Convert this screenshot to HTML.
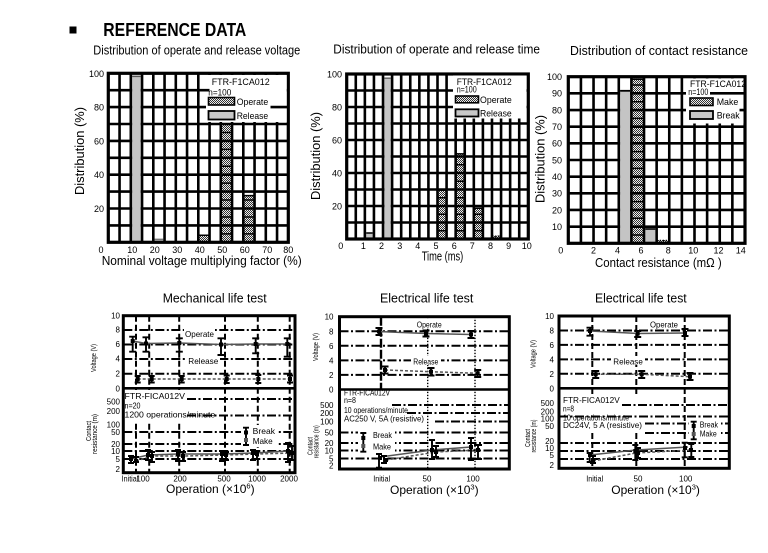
<!DOCTYPE html>
<html><head><meta charset="utf-8"><style>
html,body{margin:0;padding:0;background:#fff;}
svg{display:block;font-family:"Liberation Sans",Arial,sans-serif;}
.g{stroke:#000;stroke-width:2.6;fill:none}
.dd{stroke:#000;stroke-width:2;stroke-dasharray:9 2.5 2 2.5;fill:none}
.vd{stroke:#000;stroke-width:2;stroke-dasharray:6 3;fill:none}
.dt{stroke:#000;stroke-width:1.4;stroke-dasharray:1.4 1.6;fill:none}
.eb{stroke:#000;stroke-width:1.9;fill:none}
.ln{stroke:#555;stroke-width:1.5;fill:none}
.lnd{stroke:#555;stroke-width:1.5;fill:none;stroke-dasharray:3 2}
.hl{stroke:#000;stroke-width:1.5;fill:none}
</style></head><body>
<svg width="768" height="553" viewBox="0 0 768 553" xmlns="http://www.w3.org/2000/svg">
<defs>
<pattern id="ck" width="2" height="2" patternUnits="userSpaceOnUse"><rect width="2" height="2" fill="#eee"/><rect width="1" height="1" fill="#333"/><rect x="1" y="1" width="1" height="1" fill="#333"/></pattern>
</defs>
<rect width="768" height="553" fill="#fff"/>

<!-- Header -->
<rect x="69.5" y="26.5" width="7" height="7" fill="#000"/>
<text x="103.3" y="36" font-size="18.5" font-weight="bold" textLength="143" lengthAdjust="spacingAndGlyphs">REFERENCE DATA</text>

<!-- Titles -->
<text x="93.3" y="54.5" font-size="12.5" textLength="207" lengthAdjust="spacingAndGlyphs">Distribution of operate and release voltage</text>
<text x="333.3" y="53.5" font-size="12.5" textLength="206.7" lengthAdjust="spacingAndGlyphs">Distribution of operate and release time</text>
<text x="570" y="55" font-size="12.5" textLength="178" lengthAdjust="spacingAndGlyphs">Distribution of contact resistance</text>
<text x="162.7" y="302.3" font-size="12.5" textLength="104" lengthAdjust="spacingAndGlyphs">Mechanical life test</text>
<text x="380" y="302.3" font-size="12.5" textLength="93.3" lengthAdjust="spacingAndGlyphs">Electrical life test</text>
<text x="595" y="302.3" font-size="12.5" textLength="91.7" lengthAdjust="spacingAndGlyphs">Electrical life test</text>

<!-- ========== TOP LEFT ========== -->
<rect x="198.3" y="234.7" width="11.25" height="7.6" fill="url(#ck)"/>
<rect x="220.8" y="124" width="11.25" height="118.3" fill="url(#ck)"/>
<rect x="243.3" y="195" width="11.25" height="47.3" fill="url(#ck)"/>
<path class="hl" d="M198.3 235.2H209.55M220.8 233.85H232.05M220.8 216.95H232.05M220.8 200.05H232.05M220.8 183.15H232.05M220.8 166.25H232.05M220.8 149.35H232.05M220.8 132.45H232.05M243.3 233.85H254.55M243.3 216.95H254.55M243.3 200.05H254.55M243.3 195.6H254.55"/>
<path class="g" d="M108.3 90.2H288.3M108.3 107.1H288.3M108.3 124H288.3M108.3 140.9H288.3M108.3 157.8H288.3M108.3 174.7H288.3M108.3 191.6H288.3M108.3 208.5H288.3M108.3 225.4H288.3"/>
<rect x="132.1" y="75" width="8.65" height="167.3" fill="#c4c4c4"/>
<line x1="132.1" y1="76.5" x2="140.75" y2="76.5" stroke="#555" stroke-width="1.2"/>
<rect x="154.6" y="238.9" width="8.65" height="3.4" fill="#c4c4c4"/>
<line x1="154.6" y1="239.2" x2="163.25" y2="239.2" stroke="#555" stroke-width="1"/>
<path class="g" d="M119.55 73.3V242.3M130.8 73.3V242.3M142.05 73.3V242.3M153.3 73.3V242.3M164.55 73.3V242.3M175.8 73.3V242.3M187.05 73.3V242.3M198.3 73.3V242.3M209.55 73.3V242.3M220.8 73.3V242.3M232.05 73.3V242.3M243.3 73.3V242.3M254.55 73.3V242.3M265.8 73.3V242.3M277.05 73.3V242.3"/>
<rect x="108.3" y="73.3" width="180" height="169" fill="none" stroke="#000" stroke-width="3.2"/>
<rect x="206" y="75" width="80.7" height="47" fill="#fff"/>
<path class="g" d="M270.5 107.1H288M206 90.2H209.5"/>
<text x="211.7" y="85" font-size="9.5" textLength="58" lengthAdjust="spacingAndGlyphs">FTR-F1CA012</text>
<text x="208.3" y="95.3" font-size="9.5" textLength="23" lengthAdjust="spacingAndGlyphs">n=100</text>
<rect x="208.5" y="97.5" width="26" height="7.5" fill="url(#ck)" stroke="#000" stroke-width="1.6"/>
<text x="236.7" y="104.8" font-size="9.5" textLength="31.5" lengthAdjust="spacingAndGlyphs">Operate</text>
<rect x="208.5" y="111" width="26" height="8.5" fill="#c8c8c8" stroke="#000" stroke-width="1.8"/>
<text x="236.7" y="119" font-size="9.5" textLength="31.5" lengthAdjust="spacingAndGlyphs">Release</text>
<g font-size="9" text-anchor="end">
<text x="104" y="77">100</text><text x="104" y="110.6">80</text><text x="104" y="144.4">60</text><text x="104" y="178.2">40</text><text x="104" y="212">20</text>
</g>
<g font-size="9" text-anchor="middle">
<text x="101" y="253">0</text><text x="132.3" y="253">10</text><text x="154.8" y="253">20</text><text x="177.3" y="253">30</text><text x="199.8" y="253">40</text><text x="222.3" y="253">50</text><text x="244.8" y="253">60</text><text x="267.3" y="253">70</text><text x="288.3" y="253">80</text>
</g>
<text transform="translate(84,151) rotate(-90)" text-anchor="middle" font-size="12.5" textLength="88" lengthAdjust="spacingAndGlyphs">Distribution (%)</text>
<text x="101.7" y="265" font-size="12.5" textLength="200" lengthAdjust="spacingAndGlyphs">Nominal voltage multiplying factor (%)</text>

<!-- ========== TOP MIDDLE ========== -->
<rect x="437.5" y="189.5" width="9.08" height="49.5" fill="url(#ck)"/>
<rect x="455.66" y="153.2" width="9.08" height="85.8" fill="url(#ck)"/>
<rect x="473.82" y="207.65" width="9.08" height="31.35" fill="url(#ck)"/>
<rect x="491.98" y="235.7" width="9.08" height="3.3" fill="url(#ck)"/>
<path class="hl" d="M437.5 230.75H446.58M437.5 214.25H446.58M437.5 197.75H446.58M437.5 190.2H446.58M455.66 230.75H464.74M455.66 214.25H464.74M455.66 197.75H464.74M455.66 181.25H464.74M455.66 164.75H464.74M455.66 153.9H464.74M473.82 230.75H482.9M473.82 214.25H482.9M473.82 208.3H482.9"/>
<line x1="491.98" y1="236.2" x2="501.06" y2="236.2" class="dt"/>
<path class="g" d="M346.7 90.5H528.3M346.7 107H528.3M346.7 123.5H528.3M346.7 140H528.3M346.7 156.5H528.3M346.7 173H528.3M346.7 189.5H528.3M346.7 206H528.3M346.7 222.5H528.3"/>
<rect x="366.16" y="232.4" width="6.48" height="6.6" fill="#c4c4c4"/>
<line x1="366.16" y1="233" x2="372.64" y2="233" stroke="#000" stroke-width="1.5"/>
<rect x="384.32" y="77.3" width="6.48" height="161.7" fill="#c4c4c4"/>
<line x1="384.32" y1="78.2" x2="390.8" y2="78.2" stroke="#555" stroke-width="1.2"/>
<path class="g" d="M355.78 74V239M364.86 74V239M373.94 74V239M383.02 74V239M392.1 74V239M401.18 74V239M410.26 74V239M419.34 74V239M428.42 74V239M437.5 74V239M446.58 74V239M455.66 74V239M464.74 74V239M473.82 74V239M482.9 74V239M491.98 74V239M501.06 74V239M510.14 74V239M519.22 74V239"/>
<rect x="346.7" y="74" width="181.6" height="165" fill="none" stroke="#000" stroke-width="3.2"/>
<rect x="453" y="75.5" width="73.5" height="43" fill="#fff"/>
<text x="456.7" y="84.8" font-size="9.5" textLength="55" lengthAdjust="spacingAndGlyphs">FTR-F1CA012</text>
<text x="456.7" y="92.5" font-size="9.5" textLength="20" lengthAdjust="spacingAndGlyphs">n=100</text>
<rect x="455.5" y="96" width="23" height="6.8" fill="url(#ck)" stroke="#000" stroke-width="1.6"/>
<text x="480" y="103" font-size="9.5" textLength="31.7" lengthAdjust="spacingAndGlyphs">Operate</text>
<rect x="455.5" y="109.3" width="23" height="7.2" fill="#c8c8c8" stroke="#000" stroke-width="1.8"/>
<text x="480" y="116.3" font-size="9.5" textLength="31.7" lengthAdjust="spacingAndGlyphs">Release</text>
<g font-size="9" text-anchor="end">
<text x="342" y="77.3">100</text><text x="342" y="110.3">80</text><text x="342" y="143.3">60</text><text x="342" y="176.3">40</text><text x="342" y="209.3">20</text>
</g>
<g font-size="9" text-anchor="middle">
<text x="340.7" y="249">0</text><text x="363.4" y="249">1</text><text x="381.5" y="249">2</text><text x="399.7" y="249">3</text><text x="417.8" y="249">4</text><text x="436" y="249">5</text><text x="454.2" y="249">6</text><text x="472.3" y="249">7</text><text x="490.5" y="249">8</text><text x="508.6" y="249">9</text><text x="526.8" y="249">10</text>
</g>
<text transform="translate(320,156) rotate(-90)" text-anchor="middle" font-size="12.5" textLength="88" lengthAdjust="spacingAndGlyphs">Distribution (%)</text>
<text x="421.7" y="260.5" font-size="12.5" textLength="41.6" lengthAdjust="spacingAndGlyphs">Time (ms)</text>

<!-- ========== TOP RIGHT ========== -->
<rect x="631.4" y="78.4" width="12.62" height="164.9" fill="url(#ck)"/>
<rect x="656.64" y="240" width="12.62" height="3.3" fill="url(#ck)"/>
<path class="hl" d="M631.4 234.97H644.02M631.4 218.31H644.02M631.4 201.65H644.02M631.4 184.99H644.02M631.4 168.33H644.02M631.4 151.67H644.02M631.4 135.01H644.02M631.4 118.35H644.02M631.4 101.69H644.02M631.4 85.03H644.02M631.4 79.2H644.02"/>
<line x1="656.64" y1="240.5" x2="669.26" y2="240.5" class="dt"/>
<path class="g" d="M568.3 93.36H745M568.3 110.02H745M568.3 126.68H745M568.3 143.34H745M568.3 160H745M568.3 176.66H745M568.3 193.32H745M568.3 209.98H745M568.3 226.64H745"/>
<rect x="620.08" y="90" width="10.02" height="153.3" fill="#c4c4c4"/>
<line x1="620.08" y1="90.8" x2="630.1" y2="90.8" stroke="#000" stroke-width="1.8"/>
<rect x="645.32" y="228.3" width="10.02" height="15" fill="#c4c4c4"/>
<line x1="645.32" y1="229" x2="655.34" y2="229" stroke="#000" stroke-width="1.6"/>
<path class="g" d="M580.92 76.7V243.3M593.54 76.7V243.3M606.16 76.7V243.3M618.78 76.7V243.3M631.4 76.7V243.3M644.02 76.7V243.3M656.64 76.7V243.3M669.26 76.7V243.3M681.88 76.7V243.3M694.5 76.7V243.3M707.12 76.7V243.3M719.74 76.7V243.3M732.36 76.7V243.3"/>
<rect x="568.3" y="76.7" width="176.7" height="166.6" fill="none" stroke="#000" stroke-width="3.2"/>
<rect x="686" y="78.5" width="57.5" height="45" fill="#fff"/>
<path class="g" d="M710 93.36H744M739.5 110.02H744"/>
<text x="690" y="86.8" font-size="9.5" textLength="56" lengthAdjust="spacingAndGlyphs">FTR-F1CA012</text>
<text x="688.3" y="95.2" font-size="9.5" textLength="20" lengthAdjust="spacingAndGlyphs">n=100</text>
<rect x="690" y="98" width="23" height="7.5" fill="url(#ck)" stroke="#000" stroke-width="1.6"/>
<text x="716.7" y="105" font-size="9.5" textLength="21.6" lengthAdjust="spacingAndGlyphs">Make</text>
<rect x="690" y="111" width="23" height="8" fill="#c8c8c8" stroke="#000" stroke-width="1.8"/>
<text x="716.7" y="118.5" font-size="9.5" textLength="23" lengthAdjust="spacingAndGlyphs">Break</text>
<g font-size="9" text-anchor="end">
<text x="562" y="80">100</text><text x="562" y="96.7">90</text><text x="562" y="113.3">80</text><text x="562" y="130">70</text><text x="562" y="146.6">60</text><text x="562" y="163.3">50</text><text x="562" y="180">40</text><text x="562" y="196.6">30</text><text x="562" y="213.3">20</text><text x="562" y="230">10</text>
</g>
<g font-size="9" text-anchor="middle">
<text x="560.7" y="253.5">0</text><text x="593.5" y="253.5">2</text><text x="617.5" y="253.5">4</text><text x="641" y="253.5">6</text><text x="668.3" y="253.5">8</text><text x="693.3" y="253.5">10</text><text x="718.5" y="253.5">12</text><text x="740.7" y="253.5">14</text>
</g>
<text transform="translate(544.5,159) rotate(-90)" text-anchor="middle" font-size="12.5" textLength="88" lengthAdjust="spacingAndGlyphs">Distribution (%)</text>
<text x="595" y="267" font-size="12.5" textLength="126.7" lengthAdjust="spacingAndGlyphs">Contact resistance (mΩ )</text>

<!-- ========== BOTTOM LEFT ========== -->
<path class="dd" d="M123.3 330H295M123.3 344.5H295M123.3 359H295M123.3 373.8H295"/>
<path class="dd" d="M123.3 432H295M123.3 444H295M123.3 451H295M123.3 459H295"/>
<path class="vd" d="M136 315.7V472.7M149.2 315.7V472.7M179.2 315.7V472.7M225 315.7V472.7M257.8 315.7V472.7M289.7 315.7V472.7"/>
<rect x="125" y="390" width="62" height="31" fill="#fff"/>
<path class="dd" d="M187 399H295M187 415.5H295"/>
<line x1="123.3" y1="388.3" x2="295" y2="388.3" stroke="#000" stroke-width="2.6"/>
<rect x="123.3" y="315.7" width="171.7" height="157" fill="none" stroke="#000" stroke-width="3"/>
<rect x="184" y="329" width="31" height="9" fill="#fff"/>
<rect x="187" y="356" width="33" height="9" fill="#fff"/>
<text x="185" y="337" font-size="8.5" textLength="29" lengthAdjust="spacingAndGlyphs">Operate</text>
<text x="188.3" y="364" font-size="8.5" textLength="30" lengthAdjust="spacingAndGlyphs">Release</text>
<polyline class="ln" points="132.7,341 146,343.5 179.3,343 221,344.5 255.7,344 287.3,344"/>
<polyline class="lnd" points="137.7,379 151.7,379 181.7,379 226.7,379 258.3,379 290,379"/>
<path class="eb" d="M129.2 336.7h7M132.7 336.7V351.7M129.2 351.7h7M142.5 337.3h7M146 337.3V351.7M142.5 351.7h7M175.8 338.3h7M179.3 338.3V351.7M175.8 351.7h7M217.5 338.3h7M221 338.3V355M217.5 355h7M252.2 338.3h7M255.7 338.3V353.3M252.2 353.3h7M283.8 338.3h7M287.3 338.3V356.7M283.8 356.7h7"/>
<g fill="#000"><rect x="130.7" y="339" width="4" height="4"/><rect x="144" y="341.5" width="4" height="4"/><rect x="177.3" y="341" width="4" height="4"/><rect x="219" y="342.5" width="4" height="4"/><rect x="253.7" y="342" width="4" height="4"/><rect x="285.3" y="342" width="4" height="4"/></g>
<path class="eb" d="M134.7 376h6M137.7 376V382.5M134.7 382.5h6M148.7 376h6M151.7 376V382.5M148.7 382.5h6M178.7 376h6M181.7 376V382.5M178.7 382.5h6M223.7 375.5h6M226.7 375.5V383M223.7 383h6M255.3 375h6M258.3 375V383M255.3 383h6M287 375.5h6M290 375.5V382.5M287 382.5h6"/>
<g fill="#000"><rect x="135.7" y="377" width="4" height="4"/><rect x="149.7" y="377" width="4" height="4"/><rect x="179.7" y="377" width="4" height="4"/><rect x="224.7" y="377" width="4" height="4"/><rect x="256.3" y="377" width="4" height="4"/><rect x="288" y="377" width="4" height="4"/></g>
<polyline class="ln" points="131,459 148,455 178,454 222,454 253,453 288,451"/>
<polyline class="lnd" points="136,461 152,456 183,456 226,455 257,454 292,453"/>
<path class="eb" d="M128 456h6M131 456V463M128 463h6M133 457h6M136 457V462M133 462h6M145 450h6M148 450V460M145 460h6M149 452h6M152 452V462M149 462h6M175 450h6M178 450V461M175 461h6M180 452h6M183 452V461M180 461h6M219 451h6M222 451V461M219 461h6M223 452h6M226 452V460M223 460h6M250 450h6M253 450V460M250 460h6M254 451h6M257 451V459M254 459h6M285 443h6M288 443V462M285 462h6M289 446h6M292 446V460M289 460h6"/>
<g fill="#000"><rect x="129" y="457" width="4" height="4"/><rect x="134" y="459" width="4" height="4"/><rect x="146" y="453" width="4" height="4"/><rect x="150" y="454" width="4" height="4"/><rect x="176" y="452" width="4" height="4"/><rect x="181" y="454" width="4" height="4"/><rect x="220" y="452" width="4" height="4"/><rect x="224" y="453" width="4" height="4"/><rect x="251" y="451" width="4" height="4"/><rect x="255" y="452" width="4" height="4"/><rect x="286" y="449" width="4" height="4"/><rect x="290" y="451" width="4" height="4"/></g>
<rect x="241" y="425" width="36" height="22" fill="#fff"/>
<path class="eb" d="M243 427.7h6M246 427.7V445M243 445h6"/>
<rect x="244" y="430.5" width="4" height="4" fill="#000"/><rect x="244" y="438" width="4" height="4" fill="#555"/>
<text x="252.7" y="434" font-size="8.5" textLength="22.3" lengthAdjust="spacingAndGlyphs">Break</text>
<text x="252.7" y="444" font-size="8.5" textLength="20" lengthAdjust="spacingAndGlyphs">Make</text>
<text x="124.5" y="399" font-size="8.5" textLength="60.5" lengthAdjust="spacingAndGlyphs">FTR-FICA012V</text>
<text x="124.5" y="408.3" font-size="8.5" textLength="16" lengthAdjust="spacingAndGlyphs">n=20</text>
<text x="124.5" y="417.7" font-size="8.5" textLength="90.7" lengthAdjust="spacingAndGlyphs">1200 operations/minute</text>
<g font-size="8" text-anchor="end">
<text x="120" y="318.7">10</text><text x="120" y="332.3">8</text><text x="120" y="347">6</text><text x="120" y="361.3">4</text><text x="120" y="376.3">2</text><text x="120" y="391.3">0</text>
<text x="120" y="404.5">500</text><text x="120" y="414">200</text><text x="120" y="427.3">100</text><text x="120" y="435">50</text><text x="120" y="446.8">20</text><text x="120" y="454">10</text><text x="120" y="462">5</text><text x="120" y="472.2">2</text>
</g>
<g font-size="8" text-anchor="middle">
<text x="130" y="481.3" textLength="16.7" lengthAdjust="spacingAndGlyphs">Initial</text><text x="143" y="481.3">100</text><text x="180" y="481.3">200</text><text x="224" y="481.3">500</text><text x="257" y="481.3">1000</text><text x="289" y="481.3">2000</text>
</g>
<text transform="translate(96,358) rotate(-90)" text-anchor="middle" font-size="7.5" textLength="28" lengthAdjust="spacingAndGlyphs">Voltage (V)</text>
<text transform="translate(91,431) rotate(-90)" text-anchor="middle" font-size="7.5" textLength="20" lengthAdjust="spacingAndGlyphs">Contact</text>
<text transform="translate(97,434) rotate(-90)" text-anchor="middle" font-size="7.5" textLength="40" lengthAdjust="spacingAndGlyphs">resistance (m)</text>
<text x="166" y="493" font-size="12">Operation (×10<tspan font-size="7.5" dy="-4.5">6</tspan><tspan dy="4.5">)</tspan></text>

<!-- ========== BOTTOM MIDDLE ========== -->
<path class="dd" d="M339.5 331.3H509.3M339.5 345.8H509.3M339.5 360.4H509.3M339.5 374.9H509.3"/>
<path class="dd" d="M392 405H509.3M407 413H509.3M435 421.5H509.3M339.5 432.5H509.3M339.5 443H509.3M339.5 450.5H509.3M339.5 458.5H509.3"/>
<path class="dt" d="M427.7 316.7V469M475 316.7V469"/>
<line x1="381" y1="316.7" x2="381" y2="389.5" stroke="#000" stroke-width="2.4" stroke-dasharray="9 2"/>
<line x1="339.5" y1="389.5" x2="509.3" y2="389.5" stroke="#000" stroke-width="2.6"/>
<rect x="339.5" y="316.7" width="169.8" height="152.3" fill="none" stroke="#000" stroke-width="3"/>
<rect x="414" y="319" width="30" height="9" fill="#fff"/>
<rect x="411" y="356" width="30" height="9" fill="#fff"/>
<text x="416.7" y="327.5" font-size="8.5" textLength="25" lengthAdjust="spacingAndGlyphs">Operate</text>
<text x="413.3" y="364.3" font-size="8.5" textLength="25" lengthAdjust="spacingAndGlyphs">Release</text>
<polyline class="ln" points="379,331.5 426,333.5 471,334.5"/>
<polyline class="lnd" points="385,370 431,371.7 477.7,373.3"/>
<path class="eb" d="M375.5 328h7M379 328V335M375.5 335h7M422.5 330.5h7M426 330.5V336.5M422.5 336.5h7M467.5 331h7M471 331V338M467.5 338h7M381.5 366.5h7M385 366.5V373.5M381.5 373.5h7M427.5 368h7M431 368V375.5M427.5 375.5h7M474.2 370h7M477.7 370V377M474.2 377h7"/>
<g fill="#000"><rect x="377" y="329.5" width="4" height="4"/><rect x="424" y="331.5" width="4" height="4"/><rect x="469" y="332.5" width="4" height="4"/><rect x="383" y="368" width="4" height="4"/><rect x="429" y="369.7" width="4" height="4"/><rect x="475.7" y="371.3" width="4" height="4"/></g>
<polyline class="ln" points="380,457 432,450 471,447"/>
<polyline class="lnd" points="386,460 436,452 478,450"/>
<path class="eb" d="M376 454h6M379 454V467.7M376 467.7h6M381 456h6M384 456V463M381 463h6M429 440h6M432 440V459M429 459h6M433 446h6M436 446V457M433 457h6M468 438h6M471 438V460M468 460h6M474 445h8M478 445V459M474 459h8"/>
<g fill="#000"><rect x="378" y="456" width="4" height="4"/><rect x="384" y="458" width="4" height="4"/><rect x="430" y="448" width="4" height="4"/><rect x="434" y="450" width="4" height="4"/><rect x="469" y="445" width="4" height="4"/><rect x="476" y="448" width="4" height="4"/></g>
<rect x="358" y="430" width="37" height="22" fill="#fff"/>
<path class="eb" d="M360.3 433h6M363.3 433V451.7M360.3 451.7h6"/>
<rect x="361.3" y="436" width="4" height="4" fill="#000"/><rect x="361.3" y="444" width="4" height="4" fill="#555"/>
<text x="373" y="438" font-size="8.5" textLength="19" lengthAdjust="spacingAndGlyphs">Break</text>
<text x="373" y="449.7" font-size="8.5" textLength="18" lengthAdjust="spacingAndGlyphs">Make</text>
<text x="344" y="395.7" font-size="8" textLength="46" lengthAdjust="spacingAndGlyphs">FTR-FICA012V</text>
<text x="344" y="403" font-size="8" textLength="12" lengthAdjust="spacingAndGlyphs">n=8</text>
<text x="344" y="413" font-size="8" textLength="64" lengthAdjust="spacingAndGlyphs">10 operations/minute</text>
<text x="344" y="421.5" font-size="8" textLength="80" lengthAdjust="spacingAndGlyphs">AC250 V, 5A (resistive)</text>
<g font-size="8" text-anchor="end">
<text x="333.5" y="319.7">10</text><text x="333.5" y="334.3">8</text><text x="333.5" y="348.8">6</text><text x="333.5" y="363.4">4</text><text x="333.5" y="377.9">2</text><text x="333.5" y="392.5">0</text>
<text x="333.5" y="408">500</text><text x="333.5" y="416">200</text><text x="333.5" y="424.5">100</text><text x="333.5" y="435.5">50</text><text x="333.5" y="446">20</text><text x="333.5" y="453.5">10</text><text x="333.5" y="461.5">5</text><text x="333.5" y="468.5">2</text>
</g>
<g font-size="8" text-anchor="middle">
<text x="381.7" y="481.3" textLength="17" lengthAdjust="spacingAndGlyphs">Initial</text><text x="427" y="481.3">50</text><text x="473" y="481.3">100</text>
</g>
<text transform="translate(318,347) rotate(-90)" text-anchor="middle" font-size="7.5" textLength="28" lengthAdjust="spacingAndGlyphs">Voltage (V)</text>
<text transform="translate(312.5,446) rotate(-90)" text-anchor="middle" font-size="7.5" textLength="18" lengthAdjust="spacingAndGlyphs">Contact</text>
<text transform="translate(318.3,441.7) rotate(-90)" text-anchor="middle" font-size="7.5" textLength="33" lengthAdjust="spacingAndGlyphs">resistance (m)</text>
<text x="390" y="494" font-size="12">Operation (×10<tspan font-size="7.5" dy="-4.5">3</tspan><tspan dy="4.5">)</tspan></text>

<!-- ========== BOTTOM RIGHT ========== -->
<path class="dd" d="M559 330.5H729.3M559 344.9H729.3M559 359.4H729.3M559 373.8H729.3"/>
<path class="dd" d="M559 443H729.3M559 451H729.3M559 459H729.3"/>
<path class="vd" d="M592.3 316V468.3M636.3 316V468.3M684.7 316V468.3"/>
<rect x="561" y="394" width="83" height="36" fill="#fff"/>
<path class="dd" d="M622 405H729.3M559 416.5H729.3M645 423.5H729.3M645 433H729.3"/>
<line x1="559" y1="388.3" x2="729.3" y2="388.3" stroke="#000" stroke-width="2.6"/>
<rect x="559" y="316" width="170.3" height="152.3" fill="none" stroke="#000" stroke-width="3"/>
<rect x="647" y="319" width="34" height="9" fill="#fff"/>
<rect x="611" y="356" width="34" height="9" fill="#fff"/>
<text x="650" y="327.5" font-size="8.5" textLength="28" lengthAdjust="spacingAndGlyphs">Operate</text>
<text x="613.3" y="364.3" font-size="8.5" textLength="29.5" lengthAdjust="spacingAndGlyphs">Release</text>
<polyline class="ln" points="590,331 637.7,333.5 685,333"/>
<polyline class="lnd" points="595.7,374.3 641.7,374.3 690,376.7"/>
<path class="eb" d="M586.5 327.7h7M590 327.7V335.7M586.5 335.7h7M634.2 331h7M637.7 331V337M634.2 337h7M681.5 329h7M685 329V336M681.5 336h7M592.2 371h7M595.7 371V378M592.2 378h7M638.2 371h7M641.7 371V378M638.2 378h7M686.5 373h7M690 373V380M686.5 380h7"/>
<g fill="#000"><rect x="588" y="329" width="4" height="4"/><rect x="635.7" y="331.5" width="4" height="4"/><rect x="683" y="331" width="4" height="4"/><rect x="593.7" y="372.3" width="4" height="4"/><rect x="639.7" y="372.3" width="4" height="4"/><rect x="688" y="374.7" width="4" height="4"/></g>
<polyline class="ln" points="590,455 636,450 688,447"/>
<polyline class="lnd" points="593,461 636,453 691,450"/>
<path class="eb" d="M586.7 453h6M589.7 453V462M586.7 462h6M590 456h6M593 456V463M590 463h6M632.3 445h6M635.3 445V460M632.3 460h6M635 448h6M638 448V458M635 458h6M681.7 442.7h6M684.7 442.7V457.3M681.7 457.3h6M688.3 444h6M691.3 444V457M688.3 457h6"/>
<g fill="#000"><rect x="588" y="453" width="4" height="4"/><rect x="591" y="459" width="4" height="4"/><rect x="633.3" y="449" width="4" height="4"/><rect x="636" y="451" width="4" height="4"/><rect x="683" y="446" width="4" height="4"/><rect x="689" y="448" width="4" height="4"/></g>
<rect x="689" y="419" width="32" height="22" fill="#fff"/>
<path class="eb" d="M690.7 421.7h6M693.7 421.7V439.3M690.7 439.3h6"/>
<rect x="691.7" y="424" width="4" height="4" fill="#000"/><rect x="691.7" y="432" width="4" height="4" fill="#555"/>
<text x="699.7" y="427.3" font-size="8" textLength="18.3" lengthAdjust="spacingAndGlyphs">Break</text>
<text x="699.7" y="436.3" font-size="8" textLength="17" lengthAdjust="spacingAndGlyphs">Make</text>
<text x="563" y="403" font-size="8" textLength="56.7" lengthAdjust="spacingAndGlyphs">FTR-FICA012V</text>
<text x="563" y="411.3" font-size="8" textLength="11" lengthAdjust="spacingAndGlyphs">n=8</text>
<text x="563" y="420.3" font-size="8" textLength="66" lengthAdjust="spacingAndGlyphs">10 operations/minute</text>
<text x="563" y="428" font-size="8" textLength="79" lengthAdjust="spacingAndGlyphs">DC24V, 5 A (resistive)</text>
<g font-size="8" text-anchor="end">
<text x="554" y="319">10</text><text x="554" y="333.5">8</text><text x="554" y="347.9">6</text><text x="554" y="362.4">4</text><text x="554" y="376.8">2</text><text x="554" y="391.3">0</text>
<text x="554" y="406">500</text><text x="554" y="414.5">200</text><text x="554" y="421.5">100</text><text x="554" y="429">50</text><text x="554" y="444">20</text><text x="554" y="451">10</text><text x="554" y="458">5</text><text x="554" y="468">2</text>
</g>
<g font-size="8" text-anchor="middle">
<text x="594.7" y="481.3" textLength="17" lengthAdjust="spacingAndGlyphs">Initial</text><text x="638" y="481.3">50</text><text x="685.7" y="481.3">100</text>
</g>
<text transform="translate(535.5,354) rotate(-90)" text-anchor="middle" font-size="7.5" textLength="28" lengthAdjust="spacingAndGlyphs">Voltage (V)</text>
<text transform="translate(530,438) rotate(-90)" text-anchor="middle" font-size="7.5" textLength="18" lengthAdjust="spacingAndGlyphs">Contact</text>
<text transform="translate(536,436) rotate(-90)" text-anchor="middle" font-size="7.5" textLength="33" lengthAdjust="spacingAndGlyphs">resistance (m)</text>
<text x="611.3" y="494" font-size="12">Operation (×10<tspan font-size="7.5" dy="-4.5">3</tspan><tspan dy="4.5">)</tspan></text>
</svg>
</body></html>
